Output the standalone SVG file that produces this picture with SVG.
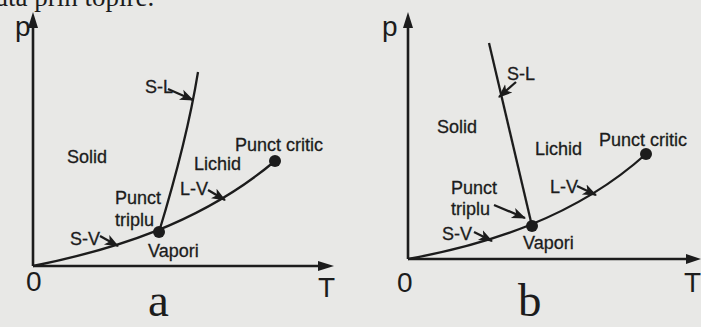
<svg xmlns="http://www.w3.org/2000/svg" width="701" height="327" viewBox="0 0 701 327">
<defs>
<style>
.lbl{font-family:"Liberation Sans",Arial,sans-serif;font-size:18px;fill:#1c1c1c;stroke:#1c1c1c;stroke-width:0.3}
.ax{font-family:"Liberation Sans",Arial,sans-serif;font-size:28px;fill:#1c1c1c}
.cap{font-family:"Liberation Serif","Times New Roman",serif;font-size:47px;fill:#1c1c1c}
.top{font-family:"Liberation Serif","Times New Roman",serif;font-size:27px;fill:#1c1c1c}
.axis{stroke:#1c1c1c;stroke-width:2.6;fill:none}
.curve{stroke:#1c1c1c;stroke-width:2.3;fill:none}
.ptr{stroke:#1c1c1c;stroke-width:2.3;fill:none;marker-end:url(#ah)}
.dot{fill:#1c1c1c}
.head{fill:#1c1c1c}
</style>
<marker id="ah" markerUnits="userSpaceOnUse" markerWidth="14" markerHeight="14" viewBox="0 0 14 14" refX="13" refY="7" orient="auto">
<path d="M0,1.5 L14,7 L0,12.5 L3.5,7 z" fill="#1c1c1c"/>
</marker>
</defs>
<rect width="701" height="327" fill="#e8e8e6"/>
<text class="top" x="-4" y="6">ată prin topire.</text>

<g id="diagram-a">
<g id="axes-a">
<line class="axis" x1="33" y1="266" x2="33" y2="24"/>
<polygon class="head" points="33,12 28,28 38,28"/>
<line class="axis" x1="33" y1="266" x2="322" y2="266"/>
<polygon class="head" points="334,266 318,261 318,271"/>
<text class="ax" x="15" y="36">p</text>
<text class="ax" x="26" y="291">0</text>
<text class="ax" x="318" y="297">T</text>
<text class="cap" x="148" y="316">a</text>
</g>
<g id="connectors-a">
<path class="curve" d="M33,266 C112,250 200,224 275,161"/>
<path class="curve" d="M159,232 Q187,140 198,72"/>
<line class="ptr" x1="168" y1="89" x2="193" y2="100"/>
<line class="ptr" x1="208" y1="190" x2="225" y2="200"/>
<line class="ptr" x1="100" y1="236" x2="118" y2="246"/>
</g>
<g id="triple-a"><circle class="dot" cx="159" cy="232" r="6"/><text class="lbl" x="115" y="204">Punct</text><text class="lbl" x="115" y="226">triplu</text></g>
<g id="critic-a"><circle class="dot" cx="275" cy="161" r="6"/><text class="lbl" x="235" y="151">Punct critic</text></g>
<g id="solid-a"><text class="lbl" x="67" y="163">Solid</text></g>
<g id="lichid-a"><text class="lbl" x="194" y="170">Lichid</text></g>
<g id="vapori-a"><text class="lbl" x="148" y="257">Vapori</text></g>
<g id="sl-a"><text class="lbl" x="145" y="93">S-L</text></g>
<g id="lv-a"><text class="lbl" x="180" y="195">L-V</text></g>
<g id="sv-a"><text class="lbl" x="70" y="245">S-V</text></g>
</g>

<g id="diagram-b">
<g id="axes-b">
<line class="axis" x1="408" y1="259" x2="408" y2="24"/>
<polygon class="head" points="408,12 403,28 413,28"/>
<line class="axis" x1="408" y1="259" x2="690" y2="259"/>
<polygon class="head" points="701,259 686,254 686,264"/>
<text class="ax" x="382" y="36">p</text>
<text class="ax" x="397" y="292">0</text>
<text class="ax" x="684" y="292">T</text>
<text class="cap" x="518" y="316">b</text>
</g>
<g id="connectors-b">
<path class="curve" d="M408,259 C485,245 575,218 646,154"/>
<line class="curve" x1="532" y1="226" x2="489" y2="43"/>
<line class="ptr" x1="516" y1="82" x2="499" y2="97"/>
<line class="ptr" x1="494" y1="205" x2="525" y2="218"/>
<line class="ptr" x1="577" y1="186" x2="596" y2="195"/>
<line class="ptr" x1="474" y1="232" x2="492" y2="241"/>
</g>
<g id="triple-b"><circle class="dot" cx="532" cy="226" r="6"/><text class="lbl" x="451" y="194">Punct</text><text class="lbl" x="451" y="215">triplu</text></g>
<g id="critic-b"><circle class="dot" cx="646" cy="154" r="6"/><text class="lbl" x="599" y="146">Punct critic</text></g>
<g id="solid-b"><text class="lbl" x="437" y="133">Solid</text></g>
<g id="lichid-b"><text class="lbl" x="535" y="155">Lichid</text></g>
<g id="vapori-b"><text class="lbl" x="523" y="249">Vapori</text></g>
<g id="sl-b"><text class="lbl" x="507" y="80">S-L</text></g>
<g id="lv-b"><text class="lbl" x="550" y="193">L-V</text></g>
<g id="sv-b"><text class="lbl" x="442" y="240">S-V</text></g>
</g>
</svg>
